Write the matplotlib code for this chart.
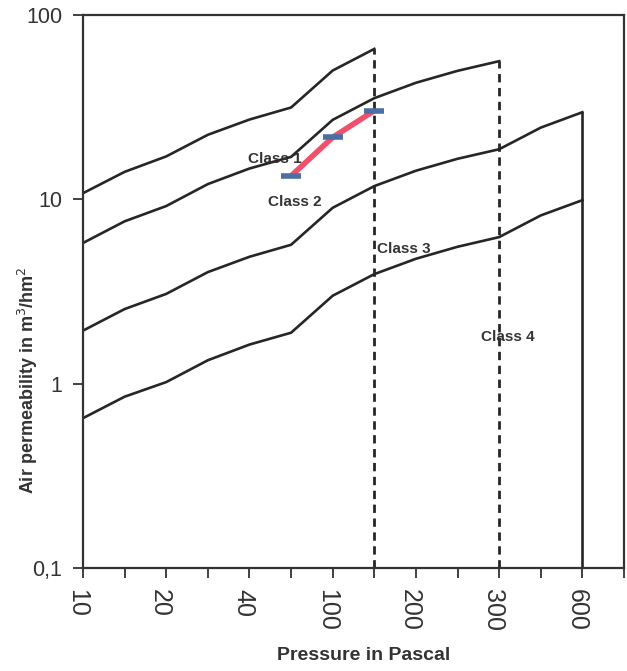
import matplotlib
matplotlib.use('Agg')
import matplotlib.pyplot as plt
import matplotlib.transforms as mtransforms
from matplotlib.ticker import FixedLocator, FixedFormatter, NullLocator

plt.rcParams['font.family'] = ['Liberation Sans', 'DejaVu Sans']

# Prüfdrücke in Pa (gleichabständig auf der x-Achse)
pressures = [10, 15, 20, 30, 40, 50, 100, 150, 200, 250, 300, 450, 600]
tick_labels = ['10', '', '20', '', '40', '', '100', '', '200', '', '300', '', '600', '']

# Grenzkurven der Klassen (m³/hm²)
class1 = [10.8, 14.1, 17.1, 22.4, 27.1, 31.5, 50.0, 65.5]
class2 = [5.8, 7.6, 9.2, 12.1, 14.7, 17.0, 27.0, 35.4, 42.9, 49.8, 56.2]
class3 = [1.94, 2.54, 3.07, 4.03, 4.88, 5.67, 9.0, 11.8, 14.3, 16.6, 18.7, 24.5, 29.7]
class4 = [0.65, 0.85, 1.02, 1.34, 1.63, 1.89, 3.0, 3.93, 4.76, 5.53, 6.24, 8.18, 9.9]

# Messwerte bei 50 / 100 / 150 Pa
meas_pressures = [50, 100, 150]
meas_values = [13.4, 21.7, 30.3]

class_labels = ['Class 1', 'Class 2', 'Class 3', 'Class 4']

pos = {p: i for i, p in enumerate(pressures)}
ymin = 0.1

fig = plt.figure(figsize=(6.27, 6.71), dpi=100)
ax = fig.add_axes([0.1324, 0.1535, 0.8628, 0.8241])
ax.set_yscale('log')

line_kw = dict(color='#262626', linewidth=1.9)
dash_kw = dict(color='#262626', linewidth=2.0, linestyle=(0, (3, 2)))

for curve in (class1, class2, class3, class4):
    ax.plot(range(len(curve)), curve, solid_joinstyle='miter', **line_kw)

# Klassengrenzen nach rechts: gestrichelt bei 150 und 300 Pa, durchgezogen bei 600 Pa
ax.vlines(pos[150], ymin, class1[-1], **dash_kw)
ax.vlines(pos[300], ymin, class2[-1], **dash_kw)
ax.vlines(pos[600], ymin, class3[-1], **line_kw)

# Messkurve
mx = [pos[p] for p in meas_pressures]
ax.plot(mx, meas_values, color='#F2506A', linewidth=4, solid_capstyle='butt', zorder=4)
ax.plot(mx, meas_values, linestyle='none', marker='_', markersize=15,
        markeredgewidth=4, color='#4A6FA5', zorder=5)

# Beschriftung der Klassen
label_pos = [(4.6, 16.5), (5.1, 9.7), (7.7, 5.4), (10.2, 1.80)]
for text, (lx, ly) in zip(class_labels, label_pos):
    ax.text(lx, ly, text, fontsize=11, fontweight='bold', color='#333333',
            ha='center', va='center', zorder=6)

ax.set_xlim(0, 13)
ax.set_ylim(0.1, 100)

ax.xaxis.set_major_locator(FixedLocator(range(len(tick_labels))))
ax.xaxis.set_major_formatter(FixedFormatter(tick_labels))
ax.yaxis.set_major_locator(FixedLocator([0.1, 1, 10, 100]))
ax.yaxis.set_major_formatter(FixedFormatter(['0,1', '1', '10', '100']))
ax.yaxis.set_minor_locator(NullLocator())

ax.tick_params(axis='x', direction='out', length=7, width=1.3, color='#333333',
               labelsize=18, labelrotation=-90, pad=8, labelcolor='#333333')
ax.tick_params(axis='y', direction='out', length=7, width=1.3, color='#333333',
               labelsize=15.5, pad=8, labelcolor='#333333')
shift = mtransforms.ScaledTranslation(-6 / 100, 0, fig.dpi_scale_trans)
for lbl in ax.get_xticklabels():
    lbl.set_verticalalignment('top')
    lbl.set_transform(lbl.get_transform() + shift)

for spine in ax.spines.values():
    spine.set_color('#333333')
    spine.set_linewidth(1.6)

ax.set_xlabel('Pressure in Pascal', fontsize=14, fontweight='bold', color='#333333')
ax.xaxis.set_label_coords(0.519, -0.143)
ax.set_ylabel('Air permeability in m$^3$/hm$^2$', fontsize=13, fontweight='bold',
              color='#333333')
ax.yaxis.set_label_coords(-0.079, 0.34)

fig.savefig('out.png', dpi=100, facecolor='white')
